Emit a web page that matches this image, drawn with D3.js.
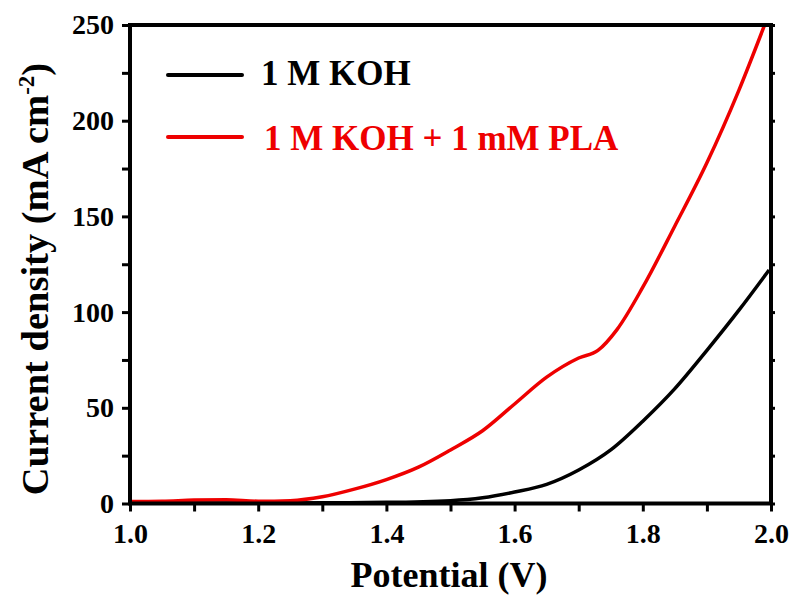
<!DOCTYPE html>
<html>
<head>
<meta charset="utf-8">
<script src="https://cdn.jsdelivr.net/npm/d3@7"></script>
<style>
  body { margin: 0; background: #fff; }
</style>
</head>
<body>
<div id="chart"></div>
<script>
// values
let potKoh = [1.0, 1.1, 1.2, 1.3, 1.4, 1.5, 1.55, 1.6, 1.65, 1.7, 1.75, 1.8, 1.85, 1.9, 1.95, 1.997];
let koh    = [0.3, 0.3, 0.3, 0.4, 0.6, 1.5, 3, 6, 10, 17.5, 28, 43, 60, 80, 101, 122];

let potPla = [1.0, 1.05, 1.1, 1.15, 1.2, 1.25, 1.3, 1.35, 1.4, 1.45, 1.5, 1.55, 1.6, 1.65, 1.7, 1.73, 1.76, 1.8, 1.85, 1.9, 1.95, 1.99];
let pla    = [1, 1.2, 1.8, 2, 1.2, 1.5, 3.5, 7.5, 12.5, 19, 28, 38, 52, 66, 76, 80, 91, 113, 145, 178, 216, 250];

let seriesNames = ["1 M KOH", "1 M KOH + 1 mM PLA"];
let seriesColors = ["#000000", "#ee0000"];

let xTicks = [1.0, 1.1, 1.2, 1.3, 1.4, 1.5, 1.6, 1.7, 1.8, 1.9, 2.0];
let yTicks = [0, 25, 50, 75, 100, 125, 150, 175, 200, 225, 250];

let serif = "'Liberation Serif', 'Times New Roman', 'DejaVu Serif', serif";

let w = 793;
let h = 597;
let margin = {left: 130, top: 25, right: 22, bottom: 93.5};

let svg = d3.select("#chart")
    .append("svg")
    .attr("width", w)
    .attr("height", h);

let x = d3.scaleLinear().domain([1.0, 2.0]).range([margin.left, w - margin.right]);
let y = d3.scaleLinear().domain([0, 250]).range([h - margin.bottom, margin.top]);

// curves
let line = d3.line()
    .x(function (d) { return x(d[0]); })
    .y(function (d) { return y(d[1]); })
    .curve(d3.curveMonotoneX);

let kohData = potKoh.map(function (p, i) { return [p, koh[i]]; });
let plaData = potPla.map(function (p, i) { return [p, pla[i]]; });

[kohData, plaData].forEach(function (data, i) {
    svg.append("path")
        .datum(data)
        .attr("d", line)
        .attr("fill", "none")
        .attr("stroke", seriesColors[i])
        .attr("stroke-width", 3.5)
        .attr("stroke-linejoin", "round");
});

// axes
function styleAxis(g) {
    g.attr("font-family", null).attr("font-size", null);
    g.selectAll(".domain").remove();
    g.selectAll(".tick line").attr("stroke", "#000").attr("stroke-width", 3);
    g.selectAll("text")
        .attr("fill", "#000")
        .style("font-family", serif)
        .style("font-weight", "bold")
        .style("font-size", "28px");
}

svg.append("g")
    .attr("transform", "translate(" + margin.left + ",0)")
    .call(d3.axisLeft(y).tickValues(yTicks).tickSize(8).tickPadding(8)
        .tickFormat(function (d) { return d % 50 === 0 ? d : ""; }))
    .call(styleAxis);

svg.append("g")
    .attr("transform", "translate(0," + (h - margin.bottom) + ")")
    .call(d3.axisBottom(x).tickValues(xTicks).tickSize(8).tickPadding(12)
        .tickFormat(function (d, i) { return i % 2 === 0 ? d3.format(".1f")(d) : ""; }))
    .call(styleAxis);

svg.append("g")
    .attr("transform", "translate(" + (w - margin.right) + ",0)")
    .call(d3.axisRight(y).tickValues(yTicks).tickSize(4).tickFormat(""))
    .call(styleAxis);

// frame
svg.append("rect")
    .attr("x", margin.left)
    .attr("y", margin.top)
    .attr("width", w - margin.left - margin.right)
    .attr("height", h - margin.top - margin.bottom)
    .attr("fill", "none")
    .attr("stroke", "#000")
    .attr("stroke-width", 4);

// axis titles
svg.append("text")
    .attr("x", 449)
    .attr("y", 587)
    .attr("text-anchor", "middle")
    .style("font-family", serif)
    .style("font-weight", "bold")
    .style("font-size", "36px")
    .text("Potential (V)");

let yTitle = svg.append("text")
    .attr("transform", "translate(48,279) rotate(-90)")
    .attr("text-anchor", "middle")
    .style("font-family", serif)
    .style("font-weight", "bold")
    .style("font-size", "38.5px");
yTitle.append("tspan").text("Current density (mA cm");
yTitle.append("tspan").attr("dy", -14).style("font-size", "23px").text("-2");
yTitle.append("tspan").attr("dy", 14).text(")");

// legend
let legendY = [75, 137];
let legendBase = [84.5, 149.5];
seriesNames.forEach(function (name, i) {
    svg.append("line")
        .attr("x1", 168)
        .attr("x2", 242)
        .attr("y1", legendY[i])
        .attr("y2", legendY[i])
        .attr("stroke", seriesColors[i])
        .attr("stroke-width", 4)
        .attr("stroke-linecap", "round");
    svg.append("text")
        .attr("x", i === 0 ? 261 : 264)
        .attr("y", legendBase[i])
        .attr("fill", seriesColors[i])
        .style("font-family", serif)
        .style("font-weight", "bold")
        .style("font-size", "35px")
        .text(name);
});
</script>
</body>
</html>
